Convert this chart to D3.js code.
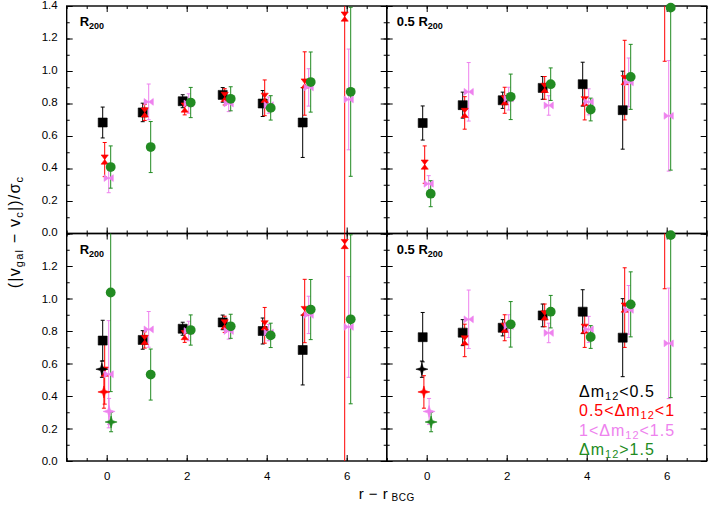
<!DOCTYPE html>
<html>
<head>
<meta charset="utf-8">
<script src="https://cdn.jsdelivr.net/npm/d3@7"></script>
<style>
  body { margin: 0; background: #fff; }
  svg { font-family: "Liberation Sans", Helvetica, Arial, sans-serif; }
</style>
</head>
<body>
<svg id="chart" width="714" height="506"></svg>
<script>
// bins in r - r_BCG
var bins = [0, 1, 2, 3, 4, 5, 6]

// R200 column (top-left, and bottom-left from bin 1 on)
var r200Black     = [0.683, 0.745, 0.814, 0.853, 0.800, 0.683, null]
var r200BlackErr  = [0.095, 0.057, 0.040, 0.045, 0.080, 0.215, null]
var r200Red       = [0.455, 0.745, 0.775, 0.841, 0.835, 0.923, 1.335]
var r200RedErr    = [0.105, 0.050, 0.045, 0.050, 0.110, 0.195, 1.600]
var r200Violet    = [0.341, 0.810, 0.800, 0.800, 0.790, 0.899, 0.825]
var r200VioletErr = [0.090, 0.110, 0.060, 0.050, 0.050, 0.115, 0.310]
var r200Green     = [0.409, 0.532, 0.806, 0.829, 0.773, 0.932, 0.872]
var r200GreenErr  = [0.130, 0.157, 0.093, 0.074, 0.075, 0.185, 0.520]

// 0.5 R200 column (top-right, and bottom-right from bin 1 on)
var halfBlack     = [0.680, 0.790, 0.820, 0.896, 0.919, 0.759, null]
var halfBlackErr  = [0.105, 0.080, 0.050, 0.070, 0.135, 0.240, null]
var halfRed       = [0.424, 0.742, 0.820, 0.896, 0.814, 0.944, 1.600]
var halfRedErr    = [0.115, 0.100, 0.080, 0.070, 0.115, 0.245, 0.540]
var halfViolet    = [0.306, 0.872, 0.830, 0.788, 0.810, 0.930, 0.724]
var halfVioletErr = [0.050, 0.180, 0.070, 0.060, 0.080, 0.150, 0.340]
var halfGreen     = [0.245, null, 0.841, 0.919, 0.763, 0.964, 1.390]
var halfGreenErr  = [0.080, null, 0.140, 0.100, 0.070, 0.200, 1.000]

// bottom row: bin 0 values (black, red, violet, green)
var lowLeftBin0     = [0.741, 0.550, 0.534, 1.037]
var lowLeftBin0Err  = [0.125, 0.200, 0.330, 0.610]
var lowRightBin0    = [0.762, null, null, null]
var lowRightBin0Err = [0.152, null, null, null]
// bottom row: star points at bin 0 (black, red, violet, green)
var starVals = [0.565, 0.425, 0.305, 0.240]
var starErrs = [0.050, 0.100, 0.080, 0.060]

var xTicks = [0, 2, 4, 6]
var yTicksTop = [0, 0.2, 0.4, 0.6, 0.8, 1.0, 1.2, 1.4]
var yTicksBottom = [0, 0.2, 0.4, 0.6, 0.8, 1.0, 1.2]

var legendLabels = [
    ["\u0394m", "12", "<0.5"],
    ["0.5<\u0394m", "12", "<1"],
    ["1<\u0394m", "12", "<1.5"],
    ["\u0394m", "12", ">1.5"]
]

var COLORS = ["#000000", "#ff0000", "#ee82ee", "#228b22"]
var SHAPES = ["square", "hourglass", "bowtie", "circle"]
var OFFSETS = [-0.1, -0.05, 0.05, 0.1]
var STAR_OFFSETS = [-0.12, -0.07, 0.06, 0.11]

function merge(vals, errs, bin0, bin0err){
    var v = vals.slice(), e = errs.slice()
    v[0] = bin0; e[0] = bin0err
    return {v: v, e: e}
}

function seriesFor(col, row){
    var src = col == 0
        ? [[r200Black, r200BlackErr], [r200Red, r200RedErr], [r200Violet, r200VioletErr], [r200Green, r200GreenErr]]
        : [[halfBlack, halfBlackErr], [halfRed, halfRedErr], [halfViolet, halfVioletErr], [halfGreen, halfGreenErr]]
    var b0 = col == 0 ? lowLeftBin0 : lowRightBin0
    var b0e = col == 0 ? lowLeftBin0Err : lowRightBin0Err
    return src.map(function(s, i){
        var d = row == 0 ? {v: s[0], e: s[1]} : merge(s[0], s[1], b0[i], b0e[i])
        return bins.map(function(b, j){ return {x: b + OFFSETS[i], v: d.v[j], e: d.e[j]} })
                   .filter(function(p){ return p.v != null })
    })
}

function shapePath(kind){
    switch(kind){
        case "square": return "M-4.5,-4.5H4.5V4.5H-4.5Z"
        case "hourglass": return "M-3.6,-4.6L3.6,-4.6L-3.6,4.6L3.6,4.6Z"
        case "bowtie": return "M-4.6,-3.4L-4.6,3.4L4.6,-3.4L4.6,3.4Z"
        case "star": return "M0,-6L1.4,-1.4L6,0L1.4,1.4L0,6L-1.4,1.4L-6,0L-1.4,-1.4Z"
    }
    return null
}

var svg = d3.select("#chart")
var LEFT = [66.7, 386.7]
var TOP = [6, 233.5]
var PW = 320, PH = 227.5

var x = d3.scaleLinear().domain([-1, 7]).range([0, PW])
var y = d3.scaleLinear().domain([0, 1.4]).range([PH, 0])

var defs = svg.append("defs")
defs.append("clipPath").attr("id", "clipBox")
    .append("rect").attr("x", 0).attr("y", 0).attr("width", PW).attr("height", PH)
defs.append("clipPath").attr("id", "clipMark")
    .append("rect").attr("x", -5).attr("y", -6).attr("width", PW + 10).attr("height", PH + 12)

var minorX = d3.range(-1, 7.01, 0.5)
var minorY = d3.range(0, 1.401, 0.1)

for(var row = 0; row < 2; row++){
    for(var col = 0; col < 2; col++){
        var g = svg.append("g").attr("transform", "translate(" + LEFT[col] + "," + TOP[row] + ")")

        // minor ticks on all four sides
        var mx = d3.axisBottom(x).tickValues(minorX).tickSize(-3).tickFormat("")
        g.append("g").attr("transform", "translate(0," + PH + ")").call(mx)
        g.append("g").call(d3.axisTop(x).tickValues(minorX).tickSize(-3).tickFormat(""))
        g.append("g").call(d3.axisLeft(y).tickValues(minorY).tickSize(-3).tickFormat(""))
        g.append("g").attr("transform", "translate(" + PW + ",0)")
            .call(d3.axisRight(y).tickValues(minorY).tickSize(-3).tickFormat(""))

        // major ticks, labels only on outer edges
        var xa = d3.axisBottom(x).tickValues(xTicks).tickSize(-6).tickPadding(11)
            .tickFormat(row == 1 ? d3.format("d") : "")
        g.append("g").attr("class", "xlab").attr("transform", "translate(0," + PH + ")").call(xa)
        g.append("g").call(d3.axisTop(x).tickValues(xTicks).tickSize(-6).tickFormat(""))
        var ya = d3.axisLeft(y).tickValues(row == 0 ? yTicksTop : yTicksBottom).tickSize(-6).tickPadding(9)
            .tickFormat(col == 0 ? d3.format(".1f") : "")
        g.append("g").attr("class", "ylab").call(ya)
        g.append("g").attr("transform", "translate(" + PW + ",0)")
            .call(d3.axisRight(y).tickValues(yTicksTop).tickSize(-6).tickFormat(""))

        g.selectAll(".domain").remove()
        g.selectAll(".tick line").attr("stroke", "#000").attr("stroke-width", 1)
        g.selectAll(".tick text").attr("fill", "#000").attr("font-size", 11.5)
        g.selectAll(".ylab .tick text").attr("dy", row == 0 ? "0.2em" : "0.32em")

        g.append("rect").attr("width", PW).attr("height", PH)
            .attr("fill", "none").attr("stroke", "#000").attr("stroke-width", 1.4)

        // panel label
        var lab = g.append("text").attr("x", col == 0 ? 13 : 10).attr("y", 20)
            .attr("font-size", 13).attr("font-weight", "bold").attr("fill", "#000")
        lab.append("tspan").text(col == 0 ? "R" : "0.5  R")
        lab.append("tspan").attr("dy", 3).attr("font-size", 9).text("200")

        var errG = g.append("g").attr("clip-path", "url(#clipBox)")
        var markG = g.append("g").attr("clip-path", "url(#clipMark)")

        var series = seriesFor(col, row)
        series.forEach(function(pts, i){
            drawErr(errG, pts, COLORS[i])
            drawMarks(markG, pts, COLORS[i], SHAPES[i])
        })

        if(row == 1){
            // star points at bin 0
            var stars = starVals.map(function(v, i){ return {x: STAR_OFFSETS[i], v: v, e: starErrs[i], c: i} })
            stars.forEach(function(p){
                drawErr(errG, [p], COLORS[p.c])
                drawMarks(markG, [p], COLORS[p.c], "star")
            })
        }
    }
}

function drawErr(sel, pts, color){
    var eg = sel.append("g").attr("stroke", color).attr("stroke-width", 1).attr("fill", "none")
    eg.selectAll(".bar").data(pts).enter().append("line")
        .attr("x1", d => x(d.x)).attr("x2", d => x(d.x))
        .attr("y1", d => y(d.v + d.e)).attr("y2", d => y(d.v - d.e))
    eg.selectAll(".capt").data(pts).enter().append("line")
        .attr("x1", d => x(d.x) - 2).attr("x2", d => x(d.x) + 2)
        .attr("y1", d => y(d.v + d.e)).attr("y2", d => y(d.v + d.e))
    eg.selectAll(".capb").data(pts).enter().append("line")
        .attr("x1", d => x(d.x) - 2).attr("x2", d => x(d.x) + 2)
        .attr("y1", d => y(d.v - d.e)).attr("y2", d => y(d.v - d.e))
}

function drawMarks(sel, pts, color, kind){
    if(kind == "circle"){
        sel.selectAll(null).data(pts).enter().append("circle")
            .attr("cx", d => x(d.x)).attr("cy", d => y(d.v)).attr("r", 4.9)
            .attr("fill", color)
        return
    }
    sel.selectAll(null).data(pts).enter().append("path")
        .attr("d", shapePath(kind))
        .attr("transform", d => "translate(" + x(d.x) + "," + y(d.v) + ")")
        .attr("fill", color).attr("stroke", color).attr("stroke-width", 0.6)
}

// axis titles
var xt = svg.append("text").attr("x", 386.7).attr("y", 499).attr("text-anchor", "middle")
    .attr("font-size", 15).attr("fill", "#000").attr("letter-spacing", 0.5)
xt.append("tspan").text("r  \u2212  r")
xt.append("tspan").attr("dy", 2).attr("font-size", 10).text(" BCG")

var yt = svg.append("text").attr("transform", "translate(20,232) rotate(-90)")
    .attr("text-anchor", "middle").attr("font-size", 16).attr("fill", "#000").attr("letter-spacing", 1.2)
yt.append("tspan").text("(|v")
yt.append("tspan").attr("dy", 3).attr("font-size", 11).text("gal")
yt.append("tspan").attr("dy", -3).text("  \u2212  v")
yt.append("tspan").attr("dy", 3).attr("font-size", 11).text("c")
yt.append("tspan").attr("dy", -3).text("|)/\u03c3")
yt.append("tspan").attr("dy", 3).attr("font-size", 11).text("c")

// legend
var leg = svg.append("g").attr("transform", "translate(579,397)")
legendLabels.forEach(function(l, i){
    var t = leg.append("text").attr("y", i * 19.3).attr("font-size", 16).attr("fill", COLORS[i])
        .attr("letter-spacing", 1)
    t.append("tspan").text(l[0])
    t.append("tspan").attr("dy", 3).attr("font-size", 11).text(l[1])
    t.append("tspan").attr("dy", -3).text(l[2])
})
</script>
</body>
</html>
